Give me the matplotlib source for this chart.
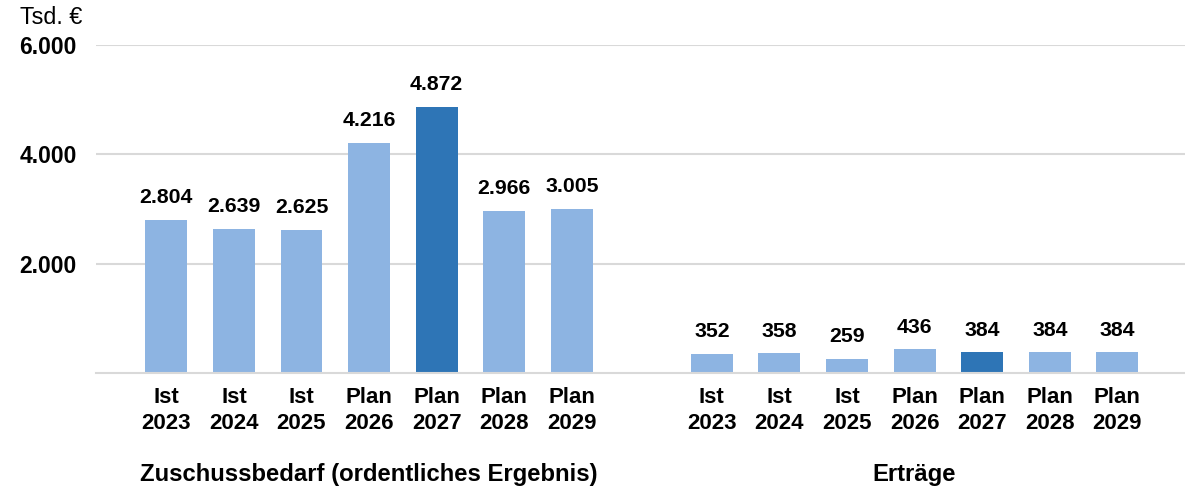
import matplotlib
matplotlib.use("Agg")
import matplotlib.pyplot as plt

plt.rcParams['font.family'] = ['Liberation Sans', 'DejaVu Sans']

years = ['2023', '2024', '2025', '2026', '2027', '2028', '2029']
kinds = ['Ist', 'Ist', 'Ist', 'Plan', 'Plan', 'Plan', 'Plan']
zuschuss = [2804, 2639, 2625, 4216, 4872, 2966, 3005]
ertraege = [352, 358, 259, 436, 384, 384, 384]
groups = ['Zuschussbedarf (ordentliches Ergebnis)', 'Erträge']
highlight = '2027'

light = '#8DB4E2'
dark = '#2E75B6'
grid_col = '#D9D9D9'

fig = plt.figure(figsize=(11.85, 4.87), dpi=100)
ax = fig.add_axes([96 / 1185, (487 - 373) / 487, 1089 / 1185, 328 / 487])

xs1 = list(range(len(years)))
xs2 = [x + len(years) + 1.07 for x in xs1]
cols = [dark if y == highlight else light for y in years]

for xs, vals in [(xs1, zuschuss), (xs2, ertraege)]:
    ax.bar(xs, vals, width=0.62, color=cols, zorder=3)
    for x, v in zip(xs, vals):
        ax.annotate(f'{v:,}'.replace(',', '.'), (x, v), xytext=(0, 9),
                    textcoords='offset points', ha='center', va='bottom',
                    fontsize=15.3, fontweight='bold')

ax.set_xlim(-1.04, 15.07)
ax.set_ylim(0, 6000)
ax.set_yticks([2000, 4000, 6000])
ax.set_yticklabels(['2.000', '4.000', '6.000'], fontsize=16.5, fontweight='bold')
ax.tick_params(axis='y', length=0, pad=14)
ax.yaxis.grid(True, color=grid_col, linewidth=1.5, zorder=0)

ax.set_xticks(xs1 + xs2)
ax.set_xticklabels([f'{k}\n{y}' for k, y in zip(kinds, years)] * 2,
                   fontsize=16, fontweight='bold', linespacing=1.32)
ax.tick_params(axis='x', length=0, pad=10)

for s in ['top', 'right', 'left']:
    ax.spines[s].set_visible(False)
ax.spines['bottom'].set_color(grid_col)
ax.spines['bottom'].set_linewidth(1.5)
ax.spines['bottom'].set_zorder(4)

for xs, name in zip([xs1, xs2], groups):
    cx = (xs[0] + xs[-1]) / 2
    ax.text(cx, -0.31, name, transform=ax.get_xaxis_transform(), ha='center',
            va='center', fontsize=17.2, fontweight='bold')

fig.text(20 / 1185, 1 - 18 / 487, 'Tsd. €', ha='left', va='center', fontsize=16.8)

fig.savefig('out.png', dpi=100)
